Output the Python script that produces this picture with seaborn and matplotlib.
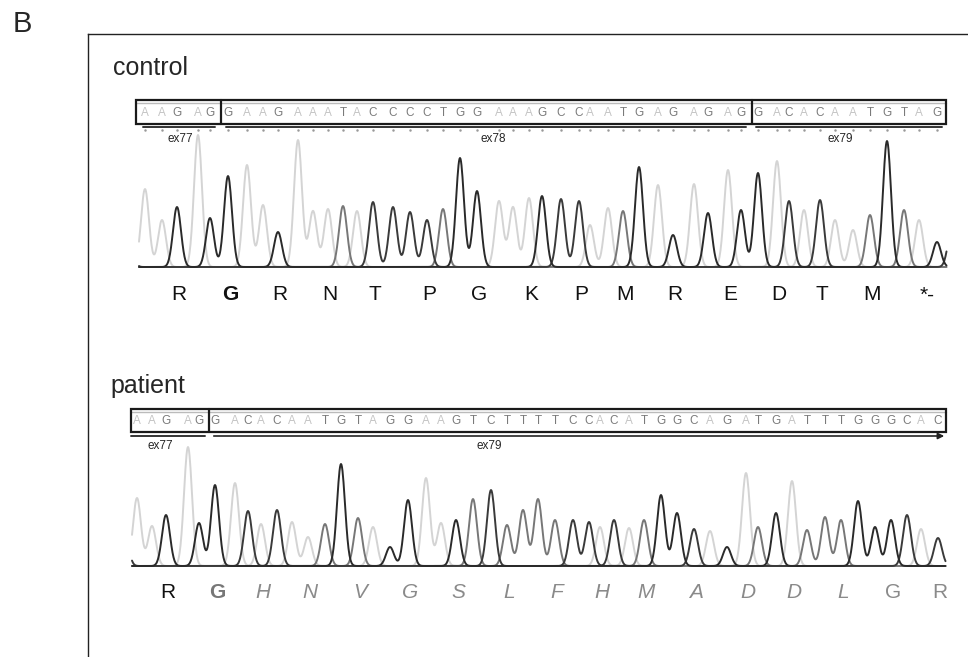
import numpy as np
import pandas as pd
import matplotlib.pyplot as plt
import seaborn as sns
from matplotlib.patches import Rectangle

# sanger traces: base call, scan position, peak height
control_bases = list("CAAGAGGAAGAAATACCCCTGGAAAGCCAATGAGAGAGGACACAATGTAGC")
control_pos = [128, 145, 162, 177, 198, 210, 228, 247, 263, 278, 298, 313, 328, 343, 357,
               373, 393, 410, 427, 443, 460, 477, 499, 513, 529, 542, 561, 579, 590, 608,
               623, 639, 658, 673, 694, 708, 728, 741, 758, 777, 789, 804, 820, 835, 853,
               870, 887, 904, 919, 937, 952]
control_height = [45, 78, 47, 60, 132, 49, 91, 102, 62, 35, 127, 56, 58, 61, 56,
                  65, 60, 55, 47, 58, 109, 76, 66, 60, 69, 71, 68, 66, 42, 59,
                  56, 100, 82, 32, 83, 54, 97, 57, 94, 106, 66, 57, 67, 47, 37,
                  52, 126, 57, 47, 25, 40]
control_aa = ["R", "G", "R", "N", "T", "P", "G", "K", "P", "M", "R", "E", "D", "T", "M", "*-"]

patient_bases = list("CAAGAGGACACAATGTAGGAAGTCTTTTCCACATGGCAGATGATTTGGGCAC")
patient_pos = [124, 137, 152, 166, 188, 199, 215, 235, 248, 261, 277, 292, 308, 325, 341,
               358, 373, 390, 408, 426, 441, 456, 473, 491, 507, 523, 538, 555, 573, 589,
               600, 614, 629, 644, 661, 677, 694, 710, 727, 746, 758, 776, 792, 807, 825,
               841, 858, 875, 891, 907, 921, 938]
patient_height = [40, 68, 40, 51, 119, 43, 81, 83, 55, 42, 56, 44, 29, 42, 102,
                  48, 39, 19, 66, 88, 43, 46, 67, 76, 41, 56, 67, 46, 46, 44,
                  39, 46, 38, 46, 71, 53, 37, 35, 19, 93, 39, 53, 85, 36, 49,
                  46, 65, 39, 46, 51, 37, 28]
patient_aa = ["R", "G", "H", "N", "V", "G", "S", "L", "F", "H", "M", "A", "D", "D", "L", "G", "R"]

trace_colors = {"A": "#d4d4d4", "C": "#3a3a3a", "G": "#2a2a2a", "T": "#777777"}

sns.set_style("white")
plt.rcParams['font.family'] = ["Liberation Sans", "DejaVu Sans"]

fig = plt.figure(figsize=(9.68, 6.57), dpi=100)
W, H = 968, 657


def px_axes(x0, x1, y0, y1):
    return fig.add_axes([x0 / W, 1 - y1 / H, (x1 - x0) / W, (y1 - y0) / H])


# outer panel frame
frame = px_axes(88, 1100, 34, 700)
frame.set_xticks([])
frame.set_yticks([])
for side in ["right", "bottom"]:
    frame.spines[side].set_visible(False)
for side in ["left", "top"]:
    frame.spines[side].set_linewidth(1.0)
    frame.spines[side].set_color("#222222")

fig.text(13 / W, 1 - 24 / H, "B", fontsize=21, va="center", ha="left")
fig.text(113 / W, 1 - 68 / H, "control", fontsize=18, va="center", ha="left")
fig.text(110 / W, 1 - 386 / H, "patient", fontsize=18, va="center", ha="left")


def draw_trace(ax, bases, pos, height, x_from, x_to):
    xs = np.arange(x_from, x_to, 0.5)
    rows = []
    for b in "ACGT":
        sig = np.zeros_like(xs)
        for bb, p, h in zip(bases, pos, height):
            if bb == b:
                sig += h * np.exp(-0.5 * ((xs - p) / 4.0) ** 2)
        rows.append(pd.DataFrame({"scan": xs, "signal": sig, "base": b}))
    df = pd.concat(rows)
    # light A trace underneath, dark ones on top
    sns.lineplot(data=df, x="scan", y="signal", hue="base", hue_order=["A", "T", "C", "G"],
                 palette=trace_colors, estimator=None, legend=False, linewidth=1.4, ax=ax)


def draw_box(ax, bases, pos, box_x0, box_x1, y_bot, y_top, cuts):
    ax.add_patch(Rectangle((box_x0, y_bot), box_x1 - box_x0, y_top - y_bot, fill=False,
                           lw=1.6, ec="#1a1a1a", clip_on=False, zorder=5))
    ax.plot([box_x0, box_x1], [y_top - 3, y_top - 3], color="#bbbbbb", lw=1, clip_on=False)
    for c in cuts:
        xc = (pos[c - 1] + pos[c]) / 2 + 2
        ax.plot([xc, xc], [y_bot, y_top], color="#1a1a1a", lw=1.6, clip_on=False, zorder=5)
    for b, p in zip(bases, pos):
        if box_x0 + 2 < p < box_x1 - 2:
            ax.text(p, (y_bot + y_top) / 2 - 1, b, fontsize=8.5, ha="center", va="center",
                    color="#c4c4c4" if b == "A" else "#7a7a7a", clip_on=False)


# ---------------- control ----------------
axc = px_axes(134, 950, 95, 312)
axc.set_xlim(134, 950)
axc.set_ylim(267 - 312, 267 - 95)
axc.axis("off")
draw_trace(axc, control_bases, control_pos, control_height, 139, 947)
draw_box(axc, control_bases, control_pos, 136, 946, 143, 167, [6, 38])

for i0, i1, name, lx in [(1, 5, "ex77", 180), (6, 37, "ex78", 493), (38, 49, "ex79", 840)]:
    axc.plot([control_pos[i0] - 2, control_pos[i1] + 5], [140.5, 140.5], color="#333333", lw=1.4,
             clip_on=False)
    axc.text(lx, 128, name, fontsize=8.5, ha="center", va="center", clip_on=False)
axc.scatter(control_pos[1:50], [137] * 49, s=0.6, color="#999999", clip_on=False)

for k, aa in enumerate(control_aa):
    mid = control_pos[2 + 3 * k + 1]
    axc.text(mid + (8 if aa == "*-" else 2), -28, aa, fontsize=15, ha="center", va="center",
             fontweight="bold" if k == 1 else "normal", color="#111111", clip_on=False)

# ---------------- patient ----------------
axp = px_axes(129, 950, 405, 612)
axp.set_xlim(129, 950)
axp.set_ylim(566 - 612, 566 - 405)
axp.axis("off")
draw_trace(axp, patient_bases, patient_pos, patient_height, 132, 946)
draw_box(axp, patient_bases + ["C"], patient_pos + [952], 131, 946, 134, 157, [6])

axp.plot([131, patient_pos[5] + 6], [130, 130], color="#333333", lw=1.4, clip_on=False)
axp.annotate("", xy=(947, 130), xytext=(patient_pos[6] - 4, 130),
             arrowprops=dict(arrowstyle="-|>", color="#222222", lw=1.2, mutation_scale=9),
             annotation_clip=False)
axp.text(160, 120, "ex77", fontsize=8.5, ha="center", va="center", clip_on=False)
axp.text(489, 120, "ex79", fontsize=8.5, ha="center", va="center", clip_on=False)

for k, aa in enumerate(patient_aa):
    mid = patient_pos[2 + 3 * k + 1]
    if k == 0:
        kw = dict(color="#111111")
    elif k == 1:
        kw = dict(color="#777777", fontweight="bold")
    elif k < 15:
        kw = dict(color="#8a8a8a", fontstyle="italic")
    else:
        kw = dict(color="#8a8a8a")
    axp.text(mid + 2, -26, aa, fontsize=15, ha="center", va="center", clip_on=False, **kw)

plt.savefig("out.png", dpi=100)
